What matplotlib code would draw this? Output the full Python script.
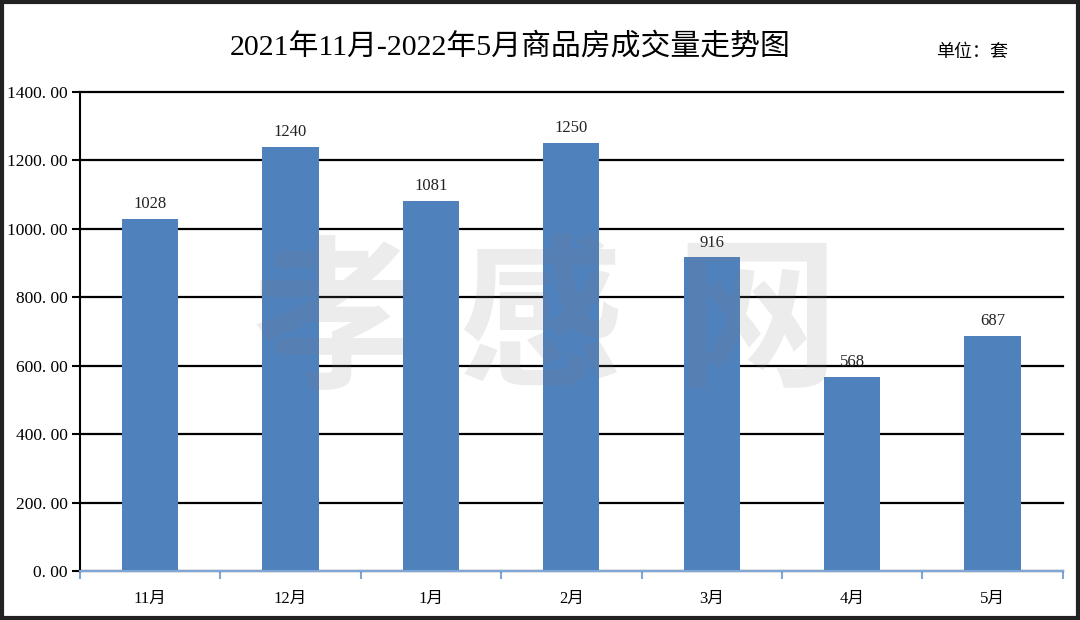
import matplotlib.pyplot as plt
from matplotlib.patches import Rectangle

plt.rcParams['font.family'] = ['Liberation Serif', 'Noto Sans CJK SC', 'DejaVu Sans']

months = ['11月', '12月', '1月', '2月', '3月', '4月', '5月']
sales = [1028, 1240, 1081, 1250, 916, 568, 687]
yticks = [0, 200, 400, 600, 800, 1000, 1200, 1400]

fig = plt.figure(figsize=(10.8, 6.2), dpi=100)
ax = fig.add_axes([0.074, 0.079, 0.910, 0.773])

x = list(range(len(months)))
ax.bar(x, sales, width=0.4, color='#4F81BD', zorder=3)

for xi, v in zip(x, sales):
    ax.annotate(str(v), (xi, v), xytext=(0, 5), textcoords='offset points',
                ha='center', va='bottom', fontsize=12, color='#222222', zorder=5)

ax.set_xlim(-0.5, len(months) - 0.5)
ax.set_ylim(0, 1400)
ax.set_yticks(yticks)
ax.set_yticklabels([f'{t}. 00' for t in yticks], fontsize=12.5)
ax.yaxis.grid(True, color='black', linewidth=1.6, zorder=1)
for gl in ax.get_ygridlines():
    gl.set_clip_on(False)
ax.set_axisbelow(True)

ax.set_xticks(x)
ax.set_xticklabels(months, fontsize=12)
ax.tick_params(axis='x', which='major', length=0, pad=14)
ax.set_xticks([i - 0.5 for i in range(len(months) + 1)], minor=True)
ax.tick_params(axis='x', which='minor', length=6, color='#7FA6D6', width=1.5)
ax.tick_params(axis='y', length=6, width=1.5, color='black', pad=3)

for s in ['top', 'right']:
    ax.spines[s].set_visible(False)
ax.spines['left'].set_linewidth(1.5)
ax.spines['bottom'].set_color('#7FA6D6')
ax.spines['bottom'].set_linewidth(1.5)
ax.spines['bottom'].set_zorder(4)

# watermark
for ch, xc in zip('孝感网', [0.31, 0.50, 0.70]):
    fig.text(xc, 0.475, ch, fontsize=118, fontweight='bold', family=['Noto Sans CJK SC'],
             color='gray', alpha=0.15, ha='center', va='center', zorder=10)

fig.text(0.472, 0.925, '2021年11月-2022年5月商品房成交量走势图', fontsize=21.5,
         ha='center', va='center')
fig.text(0.9, 0.915, '单位：套', fontsize=13, ha='center', va='center')

fig.patches.append(Rectangle((0.002, 0.003), 0.996, 0.994, transform=fig.transFigure,
                             fill=False, edgecolor='#222222', linewidth=3))

fig.savefig('out.png', dpi=100)
